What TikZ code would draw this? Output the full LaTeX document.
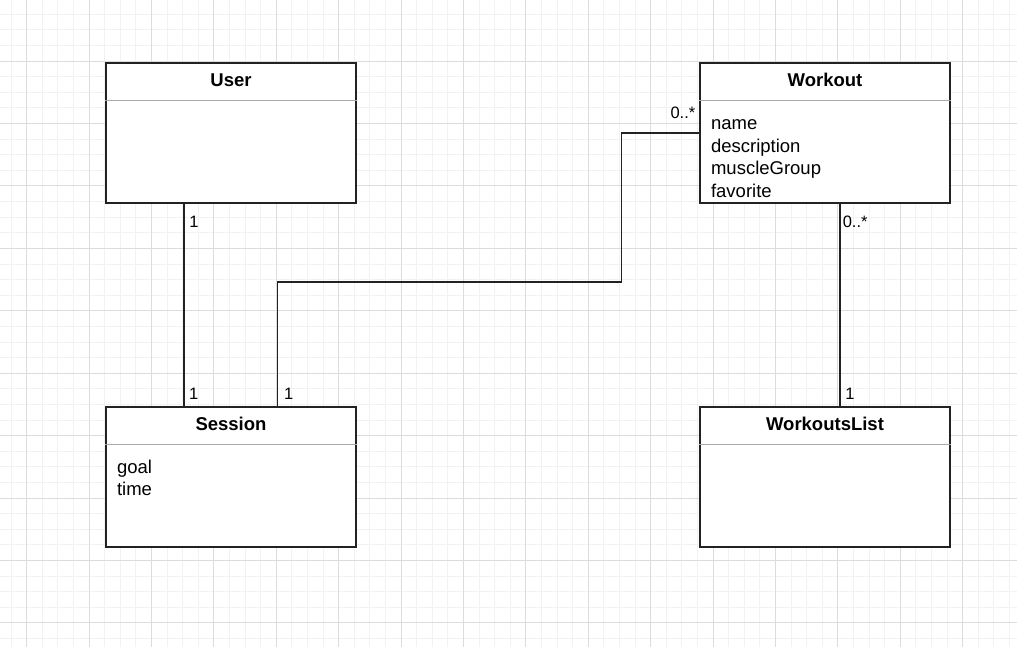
\documentclass[tikz,border=0pt]{standalone}
\usepackage{fontspec}
\setmainfont{Liberation Sans}
\usetikzlibrary{positioning}
\definecolor{gridminor}{HTML}{F2F2F2}
\definecolor{gridmajor}{HTML}{DCDCDC}
\definecolor{edge}{HTML}{222222}
\definecolor{sep}{HTML}{A8A8A8}

\tikzset{
  classbox/.style={draw=edge, fill=white, line width=1.3pt, minimum width=250pt, minimum height=140pt, inner sep=0pt},
  classtitle/.style={font=\fontsize{18.5}{22}\selectfont\bfseries, inner sep=0pt, anchor=base},
  attr/.style={font=\fontsize{18.5}{22}\selectfont, inner sep=0pt, anchor=base west},
  mult/.style={font=\fontsize{16.5}{20}\selectfont, inner sep=0pt, anchor=base west},
  assoc/.style={draw=edge, line width=1.3pt},
  divider/.style={draw=sep, line width=1.6pt}
}

\begin{document}
\begin{tikzpicture}[x=1pt, y=-1pt]
\useasboundingbox[fill=white] (0,0) rectangle (1017,647);
% background grid
\foreach \i in {0,...,64} \draw[gridminor, line width=1pt] ({11.1+15.6*\i},0) -- ++(0,647);
\foreach \j in {0,...,42} \draw[gridminor, line width=1pt] (0,{-1.2+15.6*\j}) -- ++(1017,0);
\foreach \i in {0,...,16} \draw[gridmajor, line width=1pt] ({26.7+62.4*\i},0) -- ++(0,647);
\foreach \j in {0,...,10} \draw[gridmajor, line width=1pt] (0,{-1.2+62.4*\j}) -- ++(1017,0);

% classes
\node[classbox] (user) at (231,133) {};
\node[classbox] (workout) at (825,133) {};
\node[classbox] (session) at (231,477) {};
\node[classbox] (workoutslist) at (825,477) {};
\foreach \cls/\title in {user/User, workout/Workout, session/Session, workoutslist/WorkoutsList}{
  \node[classtitle] (\cls-title) at ([yshift=-24pt]\cls.north) {\title};
  \draw[divider] ([yshift=-38pt]\cls.north west) -- ([yshift=-38pt]\cls.north east);
}

% attributes
\foreach \a [count=\k] in {name,description,muscleGroup,favorite}
  \node[attr] (workout-a\k) at ([xshift=11.5pt,yshift={-67.5pt-22.5pt*(\k-1)}]workout.north west) {\a};
\foreach \a [count=\k] in {goal,time}
  \node[attr] (session-a\k) at ([xshift=11.5pt,yshift={-67pt-22.5pt*(\k-1)}]session.north west) {\a};

% associations
\coordinate (elbow) at (621.5,282);
\draw[assoc] (user.south) -| ([xshift=-47pt]session.north) -- (session.north);
\draw[assoc] ([xshift=46.5pt]session.north) |- (elbow) |- (workout.west);
\draw[assoc] ([xshift=15pt]workout.south) -- ([xshift=15pt]workoutslist.north);

% multiplicities
\node[mult] (m-user) at (189.2,227) {1};
\node[mult] (m-session1) at (189,399) {1};
\node[mult] (m-session2) at (284,399.5) {1};
\node[mult] (m-workout1) at (670.3,118.5) {0..*};
\node[mult] (m-workout2) at (842.6,227.5) {0..*};
\node[mult] (m-list) at (845.2,399) {1};
\end{tikzpicture}
\end{document}
